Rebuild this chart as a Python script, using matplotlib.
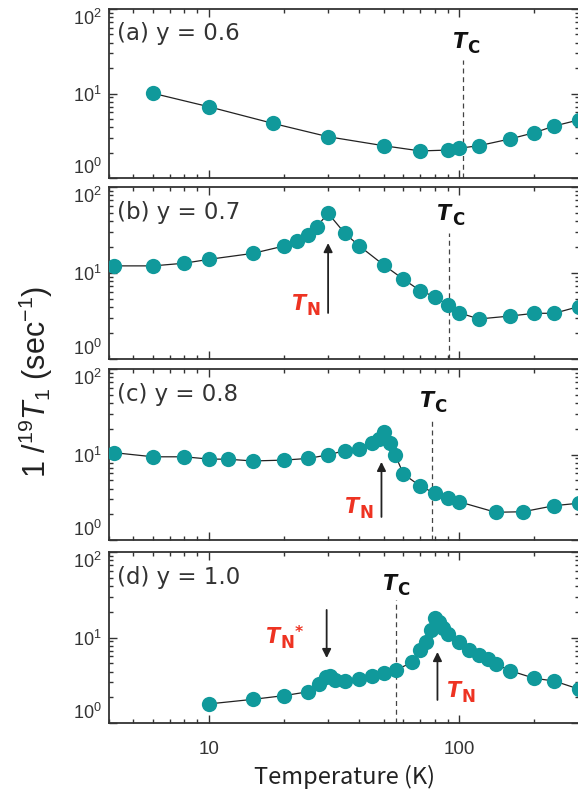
import matplotlib
matplotlib.use("Agg")
import matplotlib.pyplot as plt
from matplotlib.ticker import LogLocator, FuncFormatter, NullFormatter, LogFormatterMathtext

plt.rcParams['font.family'] = ['Liberation Sans', 'DejaVu Sans']
plt.rcParams['mathtext.fontset'] = 'custom'
plt.rcParams['mathtext.rm'] = 'Liberation Sans'
plt.rcParams['mathtext.it'] = 'Liberation Sans:italic'
plt.rcParams['mathtext.bf'] = 'Liberation Sans:bold'

# ---- data ----
a_T = [6, 10, 18, 30, 50, 70, 90, 100, 120, 160, 200, 240, 300]
a_R = [10.05, 6.98, 4.44, 3.08, 2.41, 2.09, 2.14, 2.25, 2.41, 2.9, 3.44, 4.12, 4.86]

b_T = [4.2, 6, 8, 10, 15, 20, 22.5, 25, 27, 30, 35, 40, 50, 60, 70, 80, 90, 100,
       120, 160, 200, 240, 300]
b_R = [12.1, 12.1, 13.0, 14.4, 16.9, 20.6, 23.8, 27.7, 34.5, 49.5, 28.9, 20.6, 12.4,
       8.45, 6.22, 5.3, 4.25, 3.45, 2.92, 3.16, 3.4, 3.4, 4.06]

c_T = [4.2, 6, 8, 10, 12, 15, 20, 25, 30, 35, 40, 45, 48, 50, 53, 55.5, 60, 70, 80,
       90, 100, 140, 180, 240, 300]
c_R = [10.5, 9.4, 9.4, 8.85, 8.8, 8.4, 8.6, 9.0, 9.9, 11.1, 11.6, 13.5, 15.1, 18.2,
       13.5, 10.0, 5.9, 4.28, 3.52, 3.07, 2.8, 2.11, 2.14, 2.52, 2.69]

d_T = [10, 15, 20, 25, 27.5, 29.5, 30.5, 32, 35, 40, 45, 50, 56, 65, 70, 74, 77, 80,
       83, 86, 90, 100, 110, 120, 131, 140, 160, 200, 240, 300]
d_R = [1.67, 1.89, 2.09, 2.32, 2.83, 3.42, 3.57, 3.18, 3.13, 3.27, 3.55, 3.81, 4.17,
       5.13, 7.14, 8.93, 12.2, 16.8, 15.1, 12.8, 10.9, 8.93, 7.14, 6.24, 5.56, 4.9,
       4.09, 3.33, 3.1, 2.5]

panel_labels = ["(a) y = 0.6", "(b) y = 0.7", "(c) y = 0.8", "(d) y = 1.0"]
Tc_values = [104, 91, 78, 56]

TEAL = '#10999b'
RED = '#ee3322'

W, H = 578, 797
fig = plt.figure(figsize=(W / 100, H / 100), dpi=100)

# panel pixel extents (top, bottom)
extents = [(9, 178), (187, 359), (369, 540), (552, 723)]
left_px, right_px = 109, 578.5

datasets = [(a_T, a_R), (b_T, b_R), (c_T, c_R), (d_T, d_R)]
axes = []
for i, ((top, bot), (T, R)) in enumerate(zip(extents, datasets)):
    ax = fig.add_axes([left_px / W, 1 - bot / H, (right_px - left_px) / W, (bot - top) / H])
    ax.set_xscale('log')
    ax.set_yscale('log')
    ax.set_xlim(4, 300)
    ax.set_ylim(1, 100)
    ax.plot(T, R, '-', color='#222222', lw=0.9, marker='o', ms=11,
            mfc=TEAL, mec=TEAL, mew=0, zorder=3)
    ax.set_yticks([1, 10, 100])
    ax.yaxis.set_minor_locator(LogLocator(base=10, subs=range(2, 10), numticks=12))
    ax.yaxis.set_major_formatter(LogFormatterMathtext())
    ax.yaxis.set_minor_formatter(NullFormatter())
    ax.xaxis.set_major_locator(LogLocator(base=10, numticks=5))
    ax.xaxis.set_minor_locator(LogLocator(base=10, subs=range(2, 10), numticks=12))
    ax.xaxis.set_minor_formatter(NullFormatter())
    if i == 3:
        ax.xaxis.set_major_formatter(FuncFormatter(lambda v, p: "%d" % round(v)))
    else:
        ax.xaxis.set_major_formatter(NullFormatter())
    ax.tick_params(which='both', direction='in', top=True, right=True,
                   color='#333333', width=1.0)
    ax.tick_params(which='major', length=5.5)
    ax.tick_params(which='minor', length=3)
    ax.tick_params(axis='y', which='major', labelsize=13, pad=5, labelcolor='#333333')
    ax.tick_params(axis='x', which='major', labelsize=13.5, pad=13, labelcolor='#333333')
    for sp in ax.spines.values():
        sp.set_linewidth(1.3)
        sp.set_color('#333333')
    ax.text(0.017, 0.815, panel_labels[i], transform=ax.transAxes, fontsize=16.5,
            family='DejaVu Sans', color='#333333', ha='left', va='baseline')
    axes.append(ax)

# keep the y tick labels inside each panel's own height
fig.canvas.draw()
for ax in axes:
    labs = ax.get_yticklabels()
    labs[0].set_verticalalignment('bottom')
    labs[-1].set_verticalalignment('top')


def tlabel(ax, x, y, sub, color, fs=15, star=False):
    ax.text(x, y, "T", fontsize=fs, fontweight='bold', fontstyle='italic',
            color=color, ha='left', va='baseline', family='DejaVu Sans', zorder=5)
    ax.annotate(sub, xy=(x, y), xytext=(0.69 * fs, -0.22 * fs),
                textcoords='offset points', fontsize=0.8 * fs, fontweight='bold',
                color=color, ha='left', va='baseline', family='DejaVu Sans', zorder=5)
    if star:
        ax.annotate("*", xy=(x, y), xytext=(0.69 * fs + 0.86 * 0.8 * fs, 0.3 * fs),
                    textcoords='offset points', fontsize=0.75 * fs, fontweight='bold',
                    color=color, ha='left', va='baseline', family='DejaVu Sans', zorder=5)


def arrow(ax, x, y0, y1):
    ax.annotate("", xy=(x, y1), xytext=(x, y0),
                arrowprops=dict(arrowstyle='-|>', color='#222222', lw=1.3,
                                mutation_scale=13, shrinkA=0, shrinkB=0), zorder=4)


# Tc dashed lines and labels
tc_tops = [25, 29, 25, 27.5]
tc_label_pos = [(94.6, 34.5), (82, 41.3), (69.8, 36), (49.7, 36)]
for ax, tc, top, (lx, ly) in zip(axes, Tc_values, tc_tops, tc_label_pos):
    ax.plot([tc, tc], [1, top], ls=(0, (4, 3)), color='#444444', lw=0.9, zorder=2)
    tlabel(ax, lx, ly, "C", '#111111')

# T_N markers
arrow(axes[1], 30, 3.43, 22.3)
tlabel(axes[1], 21.5, 3.7, "N", RED)

arrow(axes[2], 49, 1.86, 8.2)
tlabel(axes[2], 35.0, 2.07, "N", RED)

arrow(axes[3], 29.6, 21, 5.75)
tlabel(axes[3], 17.0, 8.6, "N", RED, star=True)
arrow(axes[3], 82, 1.86, 6.77)
tlabel(axes[3], 89.5, 2.01, "N", RED)

fig.text(36 / W, 1 - 382 / H, r"1 /$^{19}$$\mathit{T}_{1}$ (sec$^{-1}$)",
         rotation=90, ha='center', va='center', fontsize=22, color='#222222')
fig.text(344 / W, 1 - 777 / H, "Temperature (K)", ha='center', va='center',
         fontsize=17, family=['Noto Sans CJK JP', 'DejaVu Sans'], color='#222222')

fig.savefig("out.png", dpi=100)
